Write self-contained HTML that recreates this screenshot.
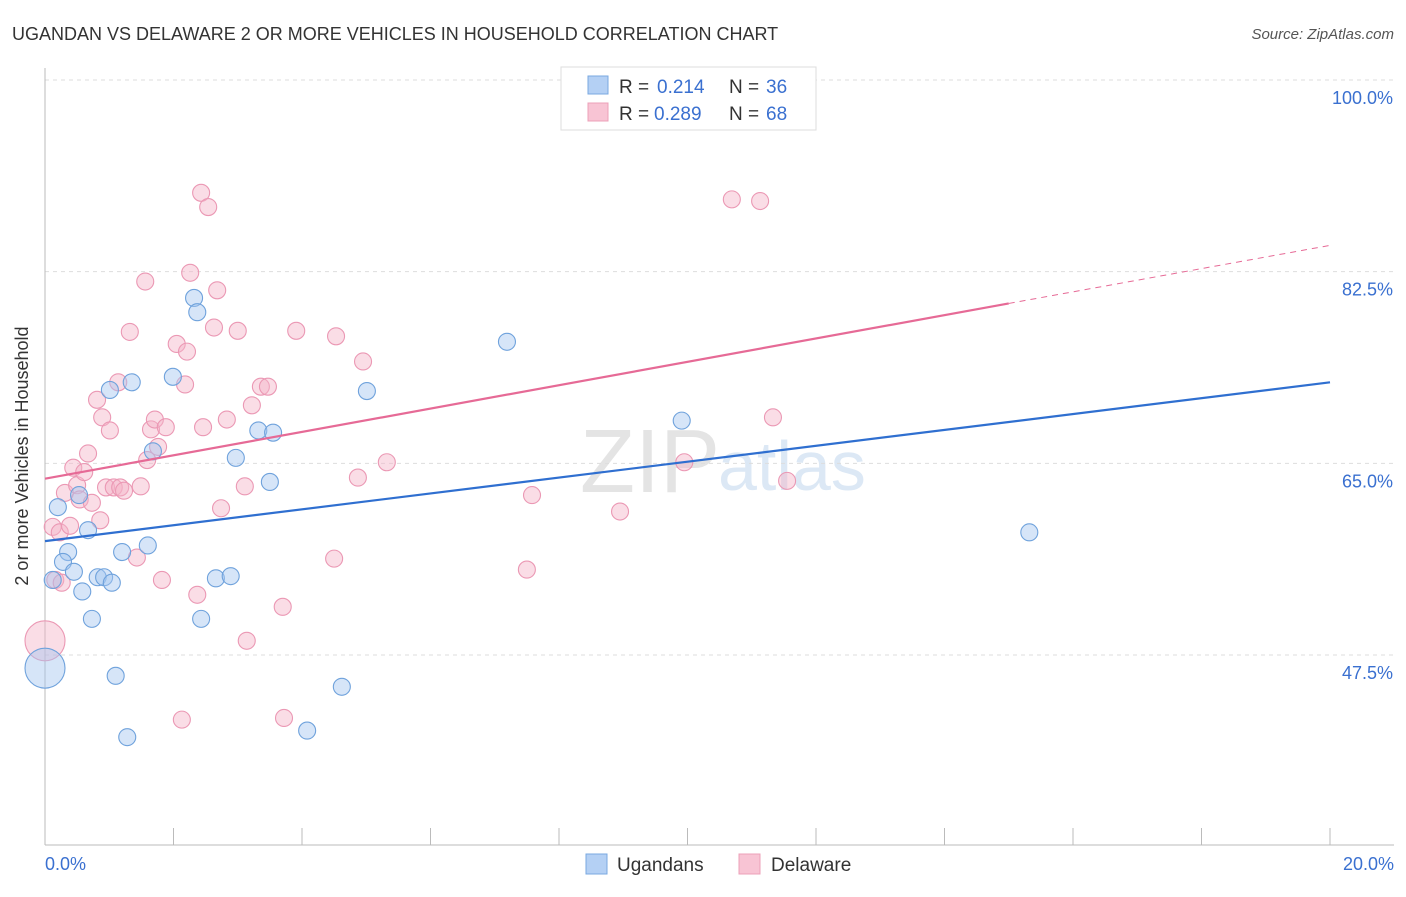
<!DOCTYPE html>
<html><head><meta charset="utf-8"><style>
body{margin:0;background:#fff;font-family:"Liberation Sans",sans-serif}
svg text{font-family:"Liberation Sans",sans-serif}
</style></head><body>
<svg id="c" width="1406" height="892">
<text x="12" y="40" font-size="18" fill="#333">UGANDAN VS DELAWARE 2 OR MORE VEHICLES IN HOUSEHOLD CORRELATION CHART</text>
<text x="1394" y="39" font-size="15" fill="#555" text-anchor="end" font-style="italic">Source: ZipAtlas.com</text>
<text x="720" y="492" font-size="90" fill="#e4e4e4" text-anchor="end" font-family="Liberation Serif">ZIP</text>
<text x="718" y="490" font-size="70" fill="#dce8f5">atlas</text>
<g id="grid"></g><g id="pts"></g><g id="trend"></g>
<text x="28" y="456" font-size="18" fill="#333" text-anchor="middle" transform="rotate(-90 28 456)">2 or more Vehicles in Household</text>
<text x="45" y="870" font-size="18" fill="#3a70d0">0.0%</text>
<text x="1394" y="870" font-size="18" fill="#3a70d0" text-anchor="end">20.0%</text>
<g>
<rect x="561" y="67" width="255" height="63" fill="#fff" stroke="#ddd"/>
<rect x="588" y="76" width="20" height="18" fill="#b4d0f4" stroke="#7aa8e0"/>
<rect x="588" y="103" width="20" height="18" fill="#f8c4d4" stroke="#eca0b8"/>
<text x="619" y="93" font-size="19" fill="#333">R =</text>
<text x="657" y="93" font-size="19" fill="#3a70d0">0.214</text>
<text x="729" y="93" font-size="19" fill="#333">N =</text>
<text x="766" y="93" font-size="19" fill="#3a70d0">36</text>
<text x="619" y="120" font-size="19" fill="#333">R =</text>
<text x="654" y="120" font-size="19" fill="#3a70d0">0.289</text>
<text x="729" y="120" font-size="19" fill="#333">N =</text>
<text x="766" y="120" font-size="19" fill="#3a70d0">68</text>
</g>
<g>
<rect x="586" y="854" width="21" height="20" fill="#b4d0f4" stroke="#7aa8e0"/>
<text x="617" y="871" font-size="19" fill="#333">Ugandans</text>
<rect x="739" y="854" width="21" height="20" fill="#f8c4d4" stroke="#eca0b8"/>
<text x="771" y="871" font-size="19" fill="#333">Delaware</text>
</g>
</svg>
<script>
const yTicks=[100,82.5,65,47.5];
const yTickLabels=["100.0%","82.5%","65.0%","47.5%"];
const blueX=[0.12,0,0.2,0.36,0.28,0.45,0.58,0.53,0.67,0.73,0.82,0.92,1.04,1.01,1.1,1.2,1.28,1.35,1.6,1.68,1.99,2.32,2.37,2.43,2.66,2.89,2.97,3.32,3.5,3.55,4.08,4.62,5.01,7.19,9.91,15.32];
const blueY=[54.35,46.3,61.0,56.9,56.0,55.1,53.3,62.1,58.9,50.8,54.6,54.6,54.1,71.7,45.6,56.9,40.0,72.4,57.5,66.1,72.9,80.1,78.8,50.8,54.5,54.7,65.5,68.0,63.3,67.8,40.6,44.6,71.6,76.1,68.9,58.7];
const pinkX=[0,0.12,0.16,0.23,0.26,0.31,0.39,0.44,0.5,0.54,0.61,0.67,0.73,0.81,0.86,0.89,0.95,1.01,1.07,1.14,1.17,1.23,1.32,1.43,1.49,1.56,1.59,1.65,1.71,1.76,1.82,1.88,2.05,2.13,2.18,2.21,2.26,2.37,2.43,2.46,2.54,2.63,2.68,2.74,2.83,3.0,3.11,3.14,3.22,3.36,3.47,3.7,3.72,3.91,4.5,4.53,4.87,4.95,5.32,7.5,7.58,8.95,9.95,10.69,11.13,11.33,11.55];
const pinkY=[48.8,59.2,54.35,58.7,54.1,62.3,59.3,64.6,63.0,61.7,64.2,65.9,61.4,70.8,59.8,69.2,62.8,68.0,62.8,72.4,62.8,62.5,77.0,56.4,62.9,81.6,65.3,68.1,69.0,66.5,54.35,68.3,75.9,41.6,72.2,75.2,82.4,53.0,89.7,68.3,88.4,77.4,80.8,60.9,69.0,77.1,62.9,48.8,70.3,72.0,72.0,51.9,41.75,77.1,56.3,76.6,63.7,74.3,65.1,55.3,62.1,60.6,65.1,89.1,88.95,69.2,63.4];
const blueTrend=[57.9,72.4];
const pinkTrend=[63.6,79.6,84.9];
const pinkSolidEnd=15;
const NS="http://www.w3.org/2000/svg";
const sx=v=>45+v/20*1285;
const sy=v=>80+(100-v)/17.5*191.67;
function mk(t,a,p){const e=document.createElementNS(NS,t);for(const k in a)e.setAttribute(k,a[k]);p.appendChild(e);return e;}
const grid=document.getElementById('grid');
yTicks.forEach((t,i)=>{
 const l=mk('line',{x1:45,x2:1394,y1:sy(t),y2:sy(t),stroke:'#ddd','stroke-dasharray':'4,4'},grid);
 
 
 const tx=mk('text',{x:1393,y:sy(t)+24,'font-size':18,fill:'#3a70d0','text-anchor':'end'},grid);
 tx.textContent=yTickLabels[i];
 
 
});
const ax=mk('line',{x1:45,x2:1394,y1:845,y2:845,stroke:'#bbb'},grid);


const ay=mk('line',{x1:45,x2:45,y1:68,y2:845,stroke:'#bbb'},grid);


for(let i=0;i<=10;i++){const t=mk('line',{x1:sx(i*2),x2:sx(i*2),y1:828,y2:845,stroke:'#bbb'},grid);
 
 }
const pts=document.getElementById('pts');
function dots(X,Y,fill,stroke,name){X.forEach((x,i)=>{
 const r=(x===0)?20:8.5;
 const c=mk('circle',{cx:sx(x),cy:sy(Y[i]),r:r,fill:fill,'fill-opacity':0.45,stroke:stroke,'stroke-width':1.1},pts);
 
 
});}
dots(pinkX,pinkY,'#f5b4c8','#eb98b4','delaware-point');
dots(blueX,blueY,'#a4c6f0','#6fa2dc','ugandan-point');
const tr=document.getElementById('trend');
const b=mk('line',{x1:sx(0),y1:sy(blueTrend[0]),x2:sx(20),y2:sy(blueTrend[1]),stroke:'#2f6fd0','stroke-width':2.2},tr);


const p=mk('line',{x1:sx(0),y1:sy(pinkTrend[0]),x2:sx(pinkSolidEnd),y2:sy(pinkTrend[1]),stroke:'#e66a96','stroke-width':2.2},tr);


const pd=mk('line',{x1:sx(pinkSolidEnd),y1:sy(pinkTrend[1]),x2:sx(20),y2:sy(pinkTrend[2]),stroke:'#e66a96','stroke-width':1,'stroke-dasharray':'6,5'},tr);


</script>
</body></html>
